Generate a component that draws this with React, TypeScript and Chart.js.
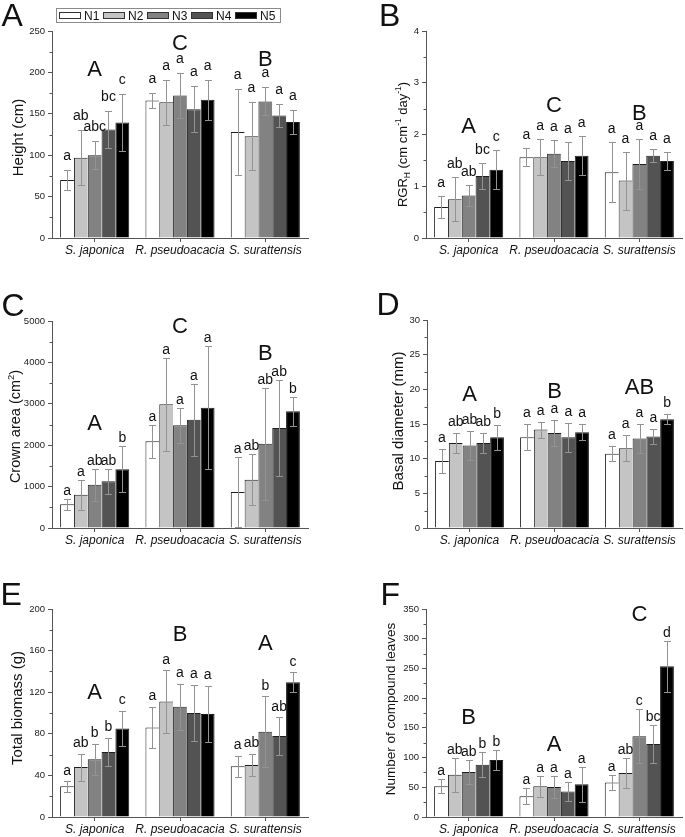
import React, { useEffect, useRef } from 'react';
import { Chart, registerables } from 'chart.js';

Chart.register(...registerables);

// ---------- data ----------
const categories = ['S. japonica', 'R. pseudoacacia', 'S. surattensis'];
const seriesNames = ['N1', 'N2', 'N3', 'N4', 'N5'];
const seriesColors = ['#ffffff', '#c4c4c4', '#828282', '#535353', '#000000'];

// Height (cm) — rows: categories, columns: N1..N5
const heightValues = [[70, 97, 100, 131, 139.5], [166, 164, 172, 155.5, 167], [128, 123, 165, 148, 140]];
const heightErrors = [[12, 33, 17, 22, 35], [9, 27, 27, 28, 24], [52, 41, 17, 14, 14]];
const heightLetters = [['a', 'ab', 'abc', 'bc', 'c'], ['a', 'a', 'a', 'a', 'a'], ['a', 'a', 'a', 'a', 'a']];
const heightGroups = ['A', 'C', 'B'];
const heightGroupLevels = [205, 237, 217];
const heightTicks = [0, 50, 100, 150, 200, 250];

// RGR_H
const rgrValues = [[0.6, 0.75, 0.82, 1.2, 1.32], [1.56, 1.56, 1.63, 1.49, 1.59], [1.27, 1.11, 1.43, 1.59, 1.49]];
const rgrErrors = [[0.21, 0.43, 0.2, 0.25, 0.38], [0.17, 0.35, 0.26, 0.37, 0.38], [0.58, 0.56, 0.48, 0.13, 0.18]];
const rgrLetters = [['a', 'ab', 'ab', 'bc', 'c'], ['a', 'a', 'a', 'a', 'a'], ['a', 'a', 'a', 'a', 'a']];
const rgrGroups = ['A', 'C', 'B'];
const rgrGroupLevels = [2.19, 2.58, 2.44];
const rgrTicks = [0, 1, 2, 3, 4];

// Crown area (cm2)
const crownValues = [[572, 805, 1045, 1127, 1417], [2093, 2987, 2480, 2617, 2907], [870, 1167, 2037, 2415, 2818]];
const crownErrors = [[140, 360, 385, 300, 555], [395, 1130, 420, 870, 1490], [845, 610, 1350, 1170, 355]];
const crownLetters = [['a', 'a', 'ab', 'ab', 'b'], ['a', 'a', 'a', 'a', 'a'], ['a', 'ab', 'ab', 'ab', 'b']];
const crownGroups = ['A', 'C', 'B'];
const crownGroupLevels = [2560, 4895, 4251];
const crownTicks = [0, 1000, 2000, 3000, 4000, 5000];

// Basal diameter (mm)
const diamValues = [[9.65, 12.25, 11.9, 12.25, 13.1], [13.1, 14.2, 13.7, 13.1, 13.8], [10.7, 11.5, 12.9, 13.2, 15.7]];
const diamErrors = [[1.7, 1.45, 2.1, 1.45, 1.8], [1.85, 1.15, 1.9, 2.1, 1.15], [1.1, 1.9, 2.05, 1.1, 0.7]];
const diamLetters = [['a', 'ab', 'ab', 'ab', 'b'], ['a', 'a', 'a', 'a', 'a'], ['a', 'a', 'a', 'a', 'b']];
const diamGroups = ['A', 'B', 'AB'];
const diamGroupLevels = [19.4, 19.9, 20.4];
const diamTicks = [0, 5, 10, 15, 20, 25, 30];

// Total biomass (g)
const biomassValues = [[29.5, 48, 55.5, 62.5, 85], [86, 111, 106, 100, 99], [48.7, 50, 82, 78, 129.5]];
const biomassErrors = [[5, 13, 15, 13.5, 17], [20, 30, 22, 27, 27], [10, 11, 34, 18, 9.5]];
const biomassLetters = [['a', 'ab', 'b', 'b', 'c'], ['a', 'a', 'a', 'a', 'a'], ['a', 'ab', 'b', 'ab', 'c']];
const biomassGroups = ['A', 'B', 'A'];
const biomassGroupLevels = [121, 177, 168];
const biomassTicks = [0, 40, 80, 120, 160, 200];

// Number of compound leaves
const leavesValues = [[51.6, 71, 75.7, 88, 96], [35, 51.6, 50.5, 43, 55], [58, 74, 136, 123, 253.5]];
const leavesErrors = [[12, 29, 20, 21, 17], [13, 18, 19, 16, 29], [12, 25, 45, 32, 43]];
const leavesLetters = [['a', 'ab', 'ab', 'b', 'b'], ['a', 'a', 'a', 'a', 'a'], ['a', 'ab', 'c', 'bc', 'd']];
const leavesGroups = ['B', 'A', 'C'];
const leavesGroupLevels = [169, 123.5, 343];
const leavesTicks = [0, 50, 100, 150, 200, 250, 300, 350];

// ---------- layout / style ----------
const FONT = '"Liberation Sans", Arial, Helvetica, sans-serif';
const AXIS = '#555555';
const ERR = '#939393';

type Seg = { t: string; sub?: boolean; sup?: boolean };
type PanelCfg = {
  letter: string;
  values: number[][];
  errors: number[][];
  letters: string[][];
  groups: string[];
  groupLevels: number[];
  ticks: number[];
  title: Seg[];
  box: { x: number; y: number; w: number; h: number };
  area: { l: number; t: number; r: number; b: number };
  titleSize: number;
  titleOffset: number;
  titleShift: number;
  gap: number;
  letterPos: { x: number; y: number };
  legend?: boolean;
};

const panels: PanelCfg[] = [
  {
    letter: 'A', values: heightValues, errors: heightErrors, letters: heightLetters, groups: heightGroups,
    groupLevels: heightGroupLevels, ticks: heightTicks, title: [{ t: 'Height (cm)' }],
    box: { x: 0, y: 0, w: 320, h: 262 }, area: { l: 52, t: 31, r: 308, b: 238 },
    titleSize: 15, titleOffset: 34, titleShift: 3, gap: 10, letterPos: { x: 1.5, y: 26 }, legend: true,
  },
  {
    letter: 'B', values: rgrValues, errors: rgrErrors, letters: rgrLetters, groups: rgrGroups,
    groupLevels: rgrGroupLevels, ticks: rgrTicks,
    title: [{ t: 'RGR' }, { t: 'H', sub: true }, { t: ' (cm cm' }, { t: '-1', sup: true }, { t: ' day' }, { t: '-1', sup: true }, { t: ')' }],
    box: { x: 340, y: 0, w: 345, h: 262 }, area: { l: 426, t: 31, r: 682, b: 238 },
    titleSize: 13, titleOffset: 24, titleShift: 10, gap: 9, letterPos: { x: 379, y: 26 },
  },
  {
    letter: 'C', values: crownValues, errors: crownErrors, letters: crownLetters, groups: crownGroups,
    groupLevels: crownGroupLevels, ticks: crownTicks,
    title: [{ t: 'Crown area (cm' }, { t: '2', sup: true }, { t: ')' }],
    box: { x: 0, y: 278, w: 320, h: 272 }, area: { l: 52, t: 321, r: 308, b: 528 },
    titleSize: 14.5, titleOffset: 37, titleShift: 2, gap: 4, letterPos: { x: 1.5, y: 316 },
  },
  {
    letter: 'D', values: diamValues, errors: diamErrors, letters: diamLetters, groups: diamGroups,
    groupLevels: diamGroupLevels, ticks: diamTicks, title: [{ t: 'Basal diameter (mm)' }],
    box: { x: 340, y: 278, w: 345, h: 272 }, area: { l: 427, t: 320, r: 682, b: 528 },
    titleSize: 15, titleOffset: 29, titleShift: -3, gap: 7, letterPos: { x: 376.5, y: 315 },
  },
  {
    letter: 'E', values: biomassValues, errors: biomassErrors, letters: biomassLetters, groups: biomassGroups,
    groupLevels: biomassGroupLevels, ticks: biomassTicks, title: [{ t: 'Total biomass (g)' }],
    box: { x: 0, y: 572, w: 320, h: 265 }, area: { l: 52, t: 609, r: 308, b: 817 },
    titleSize: 15, titleOffset: 35, titleShift: -5, gap: 6.5, letterPos: { x: 0.5, y: 605 },
  },
  {
    letter: 'F', values: leavesValues, errors: leavesErrors, letters: leavesLetters, groups: leavesGroups,
    groupLevels: leavesGroupLevels, ticks: leavesTicks, title: [{ t: 'Number of compound leaves' }],
    box: { x: 340, y: 572, w: 345, h: 265 }, area: { l: 426, t: 609, r: 682, b: 817 },
    titleSize: 13.5, titleOffset: 36, titleShift: -4, gap: 4, letterPos: { x: 380.5, y: 605 },
  },
];

function drawRich(ctx: CanvasRenderingContext2D, segs: Seg[], cx: number, cy: number, size: number) {
  ctx.save();
  ctx.translate(cx, cy);
  ctx.rotate(-Math.PI / 2);
  const parts = segs.map((sg) => {
    const fs = sg.sub || sg.sup ? size * 0.65 : size;
    ctx.font = `${fs}px ${FONT}`;
    return { ...sg, fs, w: ctx.measureText(sg.t).width };
  });
  const total = parts.reduce((a, p) => a + p.w, 0);
  let x = -total / 2;
  ctx.textAlign = 'left';
  ctx.textBaseline = 'alphabetic';
  ctx.fillStyle = '#111';
  const base = size * 0.36;
  for (const p of parts) {
    ctx.font = `${p.fs}px ${FONT}`;
    const dy = p.sup ? -size * 0.4 : p.sub ? size * 0.22 : 0;
    ctx.fillText(p.t, x, base + dy);
    x += p.w;
  }
  ctx.restore();
}

function Panel({ cfg }: { cfg: PanelCfg }) {
  const ref = useRef<HTMLCanvasElement | null>(null);
  useEffect(() => {
    const canvas = ref.current;
    if (!canvas) return;
    const { box, area } = cfg;
    const left = area.l - box.x;
    const top = area.t - box.y;
    const right = area.r - box.x;
    const bottom = area.b - box.y;
    const yMax = cfg.ticks[cfg.ticks.length - 1];
    const step = cfg.ticks[1] - cfg.ticks[0];

    const deco = {
      id: 'deco',
      afterDatasetsDraw(chart: any) {
        const ctx: CanvasRenderingContext2D = chart.ctx;
        const ys = chart.scales.y;
        const xs = chart.scales.x;
        // error bars
        ctx.save();
        ctx.strokeStyle = ERR;
        ctx.lineWidth = 1;
        seriesNames.forEach((_, s) => {
          const meta = chart.getDatasetMeta(s);
          meta.data.forEach((el: any, c: number) => {
            const v = cfg.values[c][s];
            const e = cfg.errors[c][s];
            const x = Math.round(el.x) + 0.5;
            const yt = Math.round(ys.getPixelForValue(v + e)) + 0.5;
            const yb = Math.round(ys.getPixelForValue(Math.max(0, v - e))) + 0.5;
            ctx.beginPath();
            ctx.moveTo(x, yt);
            ctx.lineTo(x, yb);
            ctx.moveTo(x - 3.5, yt);
            ctx.lineTo(x + 3.5, yt);
            ctx.moveTo(x - 3.5, yb);
            ctx.lineTo(x + 3.5, yb);
            ctx.stroke();
          });
        });
        ctx.restore();
        // significance letters
        ctx.save();
        ctx.fillStyle = '#111';
        ctx.textAlign = 'center';
        ctx.textBaseline = 'alphabetic';
        ctx.font = `14px ${FONT}`;
        seriesNames.forEach((_, s) => {
          const meta = chart.getDatasetMeta(s);
          meta.data.forEach((el: any, c: number) => {
            const v = cfg.values[c][s];
            const e = cfg.errors[c][s];
            const y = ys.getPixelForValue(v + e) - cfg.gap;
            ctx.fillText(cfg.letters[c][s], el.x, y);
          });
        });
        // group letters
        ctx.font = `22px ${FONT}`;
        cfg.groups.forEach((g, c) => {
          const x = xs.getPixelForValue(c);
          const y = ys.getPixelForValue(cfg.groupLevels[c]) + 22 * 0.358;
          ctx.fillText(g, x, y);
        });
        ctx.restore();
      },
      afterDraw(chart: any) {
        const ctx: CanvasRenderingContext2D = chart.ctx;
        const ys = chart.scales.y;
        const ca = chart.chartArea;
        ctx.save();
        // minor ticks
        ctx.strokeStyle = AXIS;
        ctx.lineWidth = 1;
        ctx.beginPath();
        for (let v = step / 2; v < yMax; v += step) {
          const y = Math.round(ys.getPixelForValue(v)) + 0.5;
          ctx.moveTo(ca.left - 2.5, y);
          ctx.lineTo(ca.left, y);
        }
        ctx.stroke();
        // y title
        drawRich(ctx, cfg.title, ca.left - cfg.titleOffset, (ca.top + ca.bottom) / 2 + cfg.titleShift, cfg.titleSize);
        // panel letter
        ctx.fillStyle = '#111';
        ctx.textAlign = 'left';
        ctx.textBaseline = 'alphabetic';
        ctx.font = `32px ${FONT}`;
        ctx.fillText(cfg.letter, cfg.letterPos.x - box.x, cfg.letterPos.y - box.y);
        // legend
        if (cfg.legend) {
          ctx.strokeStyle = '#8a8a8a';
          ctx.strokeRect(56.5 - box.x, 8.5 - box.y, 224, 14);
          ctx.font = `12px ${FONT}`;
          seriesNames.forEach((name, s) => {
            const sx = 59 + s * 44 - box.x;
            ctx.fillStyle = seriesColors[s];
            ctx.fillRect(sx, 12, 22, 7);
            ctx.strokeStyle = '#333';
            ctx.strokeRect(sx + 0.5, 12.5, 21, 6);
            ctx.fillStyle = '#111';
            ctx.fillText(name, sx + 25, 19.8);
          });
        }
        ctx.restore();
      },
    };

    const chart = new Chart(canvas, {
      type: 'bar',
      data: {
        labels: categories,
        datasets: seriesNames.map((name, s) => ({
          label: name,
          data: cfg.values.map((row) => row[s]),
          backgroundColor: seriesColors[s],
          borderColor: '#1e1e1e',
          borderWidth: { left: 1, top: 1, right: s === 4 ? 1 : 0, bottom: 0 },
          borderSkipped: false,
          categoryPercentage: 0.81,
          barPercentage: 1,
        })),
      },
      options: {
        responsive: false,
        animation: false,
        devicePixelRatio: 1,
        layout: { padding: { left: 0, top, right: box.w - right, bottom: 0 } },
        plugins: { legend: { display: false }, tooltip: { enabled: false } },
        scales: {
          x: {
            type: 'category',
            offset: true,
            grid: { display: true, drawOnChartArea: false, drawTicks: true, tickLength: 4, offset: false, color: AXIS },
            border: { display: true, color: AXIS, width: 1 },
            ticks: { font: { family: FONT, size: 12, style: 'italic' }, color: '#111', padding: 1, maxRotation: 0, autoSkip: false },
            afterFit: (sc: any) => { sc.height = box.h - bottom; },
          },
          y: {
            min: 0,
            max: yMax,
            grid: { display: true, drawOnChartArea: false, drawTicks: true, tickLength: 4, color: AXIS },
            border: { display: true, color: AXIS, width: 1 },
            ticks: {
              stepSize: step,
              font: { family: FONT, size: 9.5 },
              color: '#222',
              padding: 3,
              callback: (value: any) => String(value),
            },
            afterFit: (sc: any) => { sc.width = left; },
          },
        },
      } as any,
      plugins: [deco],
    });
    return () => chart.destroy();
  }, [cfg]);

  return (
    <canvas
      ref={ref}
      width={cfg.box.w}
      height={cfg.box.h}
      style={{ position: 'absolute', left: cfg.box.x, top: cfg.box.y, width: cfg.box.w, height: cfg.box.h }}
    />
  );
}

export default function App() {
  useEffect(() => {
    document.body.style.margin = '0';
  }, []);
  return (
    <div style={{ position: 'absolute', left: 0, top: 0, width: 685, height: 837, background: '#fff', overflow: 'hidden' }}>
      {panels.map((p) => (
        <Panel key={p.letter} cfg={p} />
      ))}
    </div>
  );
}
